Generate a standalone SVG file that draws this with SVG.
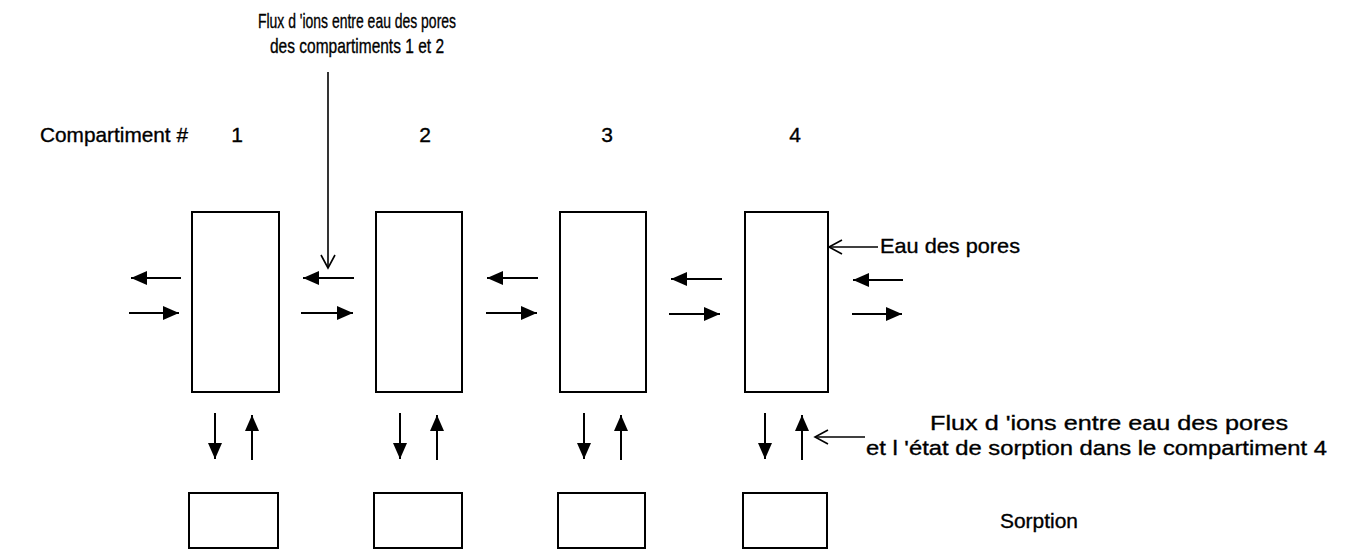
<svg xmlns="http://www.w3.org/2000/svg" width="1346" height="550" viewBox="0 0 1346 550">
  <style>
    .box { fill: #fff; stroke: #000; stroke-width: 2; }
    .flow { stroke: #000; stroke-width: 2; fill: none; marker-end: url(#solid); }
    .call { stroke: #000; stroke-width: 1.6; fill: none; marker-end: url(#open); }
    text { font-family: "Liberation Sans", Arial, sans-serif; font-size: 21px; fill: #000; stroke: #000; stroke-width: 0.35; }
  </style>
  <defs>
    <marker id="solid" markerUnits="userSpaceOnUse" markerWidth="18" markerHeight="16" refX="16" refY="7" orient="auto">
      <path d="M0,0 L16,7 L0,14 z" fill="#000"/>
    </marker>
    <marker id="open" markerUnits="userSpaceOnUse" markerWidth="16" markerHeight="18" refX="14" refY="8" orient="auto">
      <path d="M1,1 L14,8 L1,15" fill="none" stroke="#000" stroke-width="1.6"/>
    </marker>
  </defs>

  <!-- labels -->
  <g id="labels">
    <text x="40" y="142" textLength="148" lengthAdjust="spacingAndGlyphs">Compartiment #</text>
    <text x="237" y="142" text-anchor="middle">1</text>
    <text x="425" y="142" text-anchor="middle">2</text>
    <text x="607" y="142" text-anchor="middle">3</text>
    <text x="795" y="142" text-anchor="middle">4</text>
    <text x="258" y="28" textLength="198" lengthAdjust="spacingAndGlyphs">Flux d 'ions entre eau des pores</text>
    <text x="270" y="53" textLength="174" lengthAdjust="spacingAndGlyphs">des compartiments 1 et 2</text>
    <text x="880" y="253" textLength="140" lengthAdjust="spacingAndGlyphs">Eau des pores</text>
    <text x="930" y="430" textLength="358" lengthAdjust="spacingAndGlyphs">Flux d 'ions entre eau des pores</text>
    <text x="866" y="455" textLength="461" lengthAdjust="spacingAndGlyphs">et l 'état de sorption dans le compartiment 4</text>
    <text x="1000" y="528" textLength="78" lengthAdjust="spacingAndGlyphs">Sorption</text>
  </g>

  <!-- pore-water compartments -->
  <g id="pore1"><rect class="box" x="192" y="212" width="87" height="180"/></g>
  <g id="pore2"><rect class="box" x="376" y="212" width="86" height="180"/></g>
  <g id="pore3"><rect class="box" x="560" y="212" width="86" height="180"/></g>
  <g id="pore4"><rect class="box" x="745" y="212" width="83" height="180"/></g>

  <!-- sorption compartments -->
  <g id="sorp1"><rect class="box" x="189" y="493" width="89" height="55"/></g>
  <g id="sorp2"><rect class="box" x="374" y="493" width="88" height="55"/></g>
  <g id="sorp3"><rect class="box" x="558" y="493" width="87" height="55"/></g>
  <g id="sorp4"><rect class="box" x="743" y="493" width="84" height="55"/></g>

  <g id="connectors">
    <!-- horizontal exchange between pore waters -->
    <line class="flow" x1="181" y1="278" x2="131" y2="278"/>
    <line class="flow" x1="129" y1="313" x2="179" y2="313"/>
    <line class="flow" x1="354" y1="278" x2="303" y2="278"/>
    <line class="flow" x1="301" y1="313" x2="353" y2="313"/>
    <line class="flow" x1="538" y1="278" x2="487" y2="278"/>
    <line class="flow" x1="486" y1="313" x2="537" y2="313"/>
    <line class="flow" x1="722" y1="279" x2="671" y2="279"/>
    <line class="flow" x1="669" y1="314" x2="720" y2="314"/>
    <line class="flow" x1="903" y1="280" x2="853" y2="280"/>
    <line class="flow" x1="852" y1="314" x2="902" y2="314"/>

    <!-- vertical exchange with sorption -->
    <line class="flow" x1="215" y1="413" x2="215" y2="459"/>
    <line class="flow" x1="252" y1="460" x2="252" y2="415"/>
    <line class="flow" x1="400" y1="413" x2="400" y2="459"/>
    <line class="flow" x1="437" y1="460" x2="437" y2="415"/>
    <line class="flow" x1="584" y1="413" x2="584" y2="459"/>
    <line class="flow" x1="621" y1="460" x2="621" y2="415"/>
    <line class="flow" x1="765" y1="413" x2="765" y2="459"/>
    <line class="flow" x1="802" y1="460" x2="802" y2="415"/>

    <!-- callouts -->
    <line class="call" x1="328" y1="72" x2="328" y2="268"/>
    <line class="call" x1="878" y1="247" x2="829" y2="247"/>
    <line class="call" x1="865" y1="437" x2="815" y2="437"/>
  </g>
</svg>
